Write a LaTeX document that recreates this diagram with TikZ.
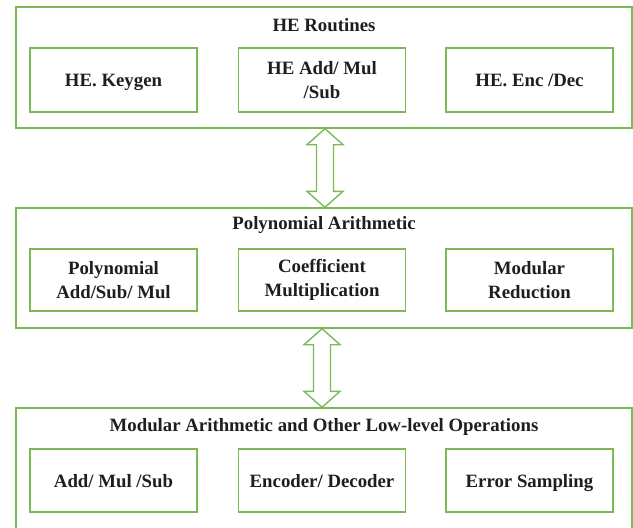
\documentclass[tikz,border=0pt]{standalone}
\usepackage{fontspec}
\setmainfont{Liberation Serif}
\usetikzlibrary{calc}

\definecolor{boxgreen}{RGB}{125,184,86}
\definecolor{textdark}{RGB}{30,30,30}

\tikzset{
    layerbox/.style={draw=boxgreen, line width=1.4pt, minimum width=616, minimum height=#1, inner sep=0},
    unitbox/.style={draw=boxgreen, line width=1.4pt, minimum width=167, minimum height=#1, inner sep=0,
        align=center, text=textdark, font=\bfseries\fontsize{18.8}{23.5}\selectfont},
    oneline/.style={text height=14, text depth=1},
    layertitle/.style={text=textdark, inner sep=0, text height=13, text depth=4.5,
        font=\bfseries\fontsize{18.8}{23.5}\selectfont},
    arrowline/.style={draw=boxgreen, line width=1.4pt, line join=miter}
}

% hollow two-headed block arrow between two tips
\newcommand{\hollowarrow}[2]{
    \draw[arrowline] (#1) -- ($(#1)+(18,16)$) -- ($(#1)+(8.5,16)$) -- ($(#2)+(8.5,-16)$)
        -- ($(#2)+(18,-16)$) -- (#2) -- ($(#2)+(-18,-16)$) -- ($(#2)+(-8.5,-16)$)
        -- ($(#1)+(-8.5,16)$) -- ($(#1)+(-18,16)$) -- cycle;
}

\begin{document}
\begin{tikzpicture}[x=1pt, y=-1pt]
    \useasboundingbox (0,0) rectangle (633,528);
    \clip (0,0) rectangle (633,528);

    % HE routines layer
    \node[layerbox=121] (routines) at (324, 67.5) {};
        \node[layertitle] (routinestitle) at ($(routines.north)+(0,21)$) {HE Routines};
        \node[unitbox=64, oneline] (keygen) at (113.5, 80) {HE. Keygen};
        \node[unitbox=64] (addmul) at (322, 80) {HE Add/ Mul\\/Sub};
        \node[unitbox=64, oneline] (encdec) at (529.5, 80) {HE. Enc /Dec};

    % polynomial arithmetic layer
    \node[layerbox=120] (poly) at (324, 268) {};
        \node[layertitle] (polytitle) at ($(poly.north)+(0,18)$) {Polynomial Arithmetic};
        \node[unitbox=62] (polyops) at (113.5, 280) {Polynomial\\Add/Sub/ Mul};
        \node[unitbox=62] (coeff) at (322, 280) {Coefficient\\Multiplication};
        \node[unitbox=62] (modred) at (529.5, 280) {Modular\\Reduction};

    % low-level layer
    \node[layerbox=124] (lowlevel) at (324, 470) {};
        \node[layertitle] (lowtitle) at ($(lowlevel.north)+(0,20)$) {Modular Arithmetic and Other Low-level Operations};
        \node[unitbox=63, oneline] (basicops) at (113.5, 480.5) {Add/ Mul /Sub};
        \node[unitbox=63, oneline] (codec) at (322, 480.5) {Encoder/ Decoder};
        \node[unitbox=63, oneline] (errsamp) at (529.5, 480.5) {Error Sampling};

    % links between layers
    \hollowarrow{[xshift=1pt]routines.south}{[xshift=1pt]poly.north}
    \hollowarrow{[xshift=-2pt]poly.south}{[xshift=-2pt]lowlevel.north}

\end{tikzpicture}
\end{document}
